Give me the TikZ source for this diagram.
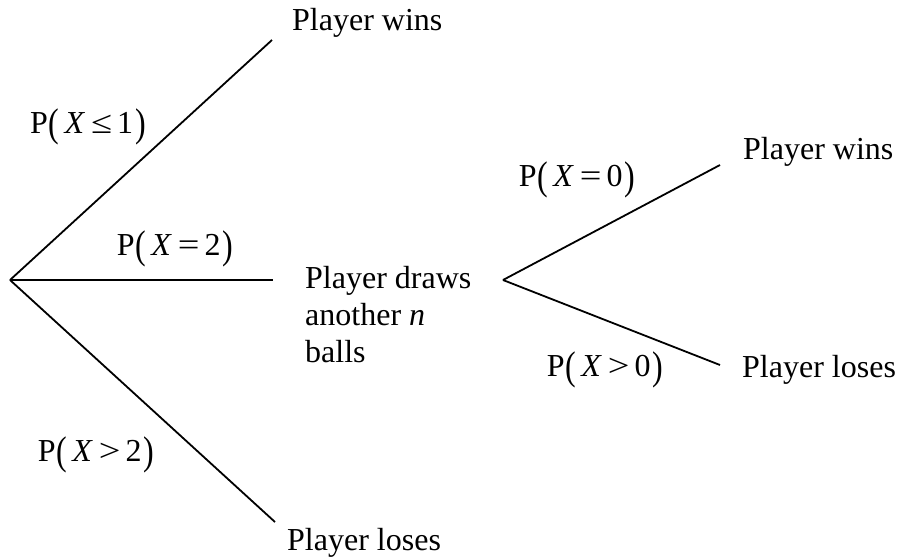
\documentclass[tikz,border=0pt]{standalone}
\usepackage{graphicx}
\usepackage{fontspec}
\setmainfont{Liberation Serif}
\usetikzlibrary{positioning}

% tall parentheses as in the scanned labels
\newcommand{\lpar}{\raisebox{-3pt}{\scalebox{1}[1.25]{(}}}
\newcommand{\rpar}{\raisebox{-3pt}{\scalebox{1}[1.25]{)}}}
\newcommand{\prob}[2]{P\kern1pt\lpar\kern5pt\textit{X}\kern6pt\scalebox{1.2}[1]{#1}\kern5pt#2\kern2pt\rpar}

\begin{document}
\begin{tikzpicture}[
  x=1pt, y=-1pt,
  branch/.style={line width=1.8pt},
  outcome/.style={anchor=base west, inner sep=0pt, font=\fontsize{32}{37}\selectfont},
  plabel/.style={inner sep=0pt, font=\fontsize{32}{37}\selectfont}
]
\useasboundingbox (0,0) rectangle (898,558);

% first draw
\coordinate (root) at (10,280);
\coordinate (winA) at (272,40);
\coordinate (drawA) at (273,280);
\coordinate (loseA) at (275,522);
\node[outcome] (winsA) at (292,30) {Player wins};
\node[outcome] (losesA) at (287,550) {Player loses};
\node[outcome, anchor=north west, align=left] (draws) at (305,266)
  {Player draws\\another \textit{n}\\balls};

% second draw
\coordinate (again) at (503,280);
\coordinate (winB) at (720,165);
\coordinate (loseB) at (720,365);
\node[outcome] (winsB) at (743,159) {Player wins};
\node[outcome] (losesB) at (742,377) {Player loses};

\draw[branch] (root) -- (winA);
\draw[branch] (root) -- (drawA);
\draw[branch] (root) -- (loseA);
\draw[branch] (again) -- (winB);
\draw[branch] (again) -- (loseB);

\node[plabel] (pLeOne) at (88,127) {\prob{≤}{1}};
\node[plabel] (pEqTwo) at (175,249) {\prob{=}{2}};
\node[plabel] (pGtTwo) at (96,455) {\prob{>}{2}};
\node[plabel] (pEqZero) at (577,180) {\prob{=}{0}};
\node[plabel] (pGtZero) at (605,370) {\prob{>}{0}};
\end{tikzpicture}
\end{document}
